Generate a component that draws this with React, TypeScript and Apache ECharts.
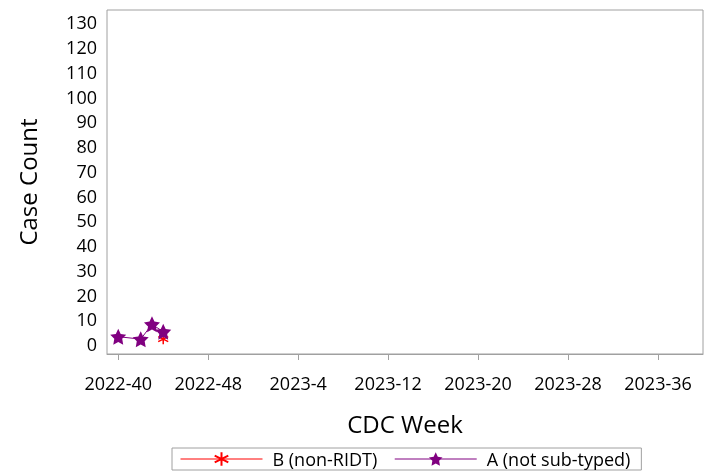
import React, { useEffect, useRef } from "react";
import * as echarts from "echarts";

const weeks: string[] = [];
for (let w = 39; w <= 52; w++) weeks.push(`2022-${w}`);
for (let w = 1; w <= 40; w++) weeks.push(`2023-${w}`);

const aWeeks = ["2022-40", "2022-42", "2022-43", "2022-44"];
const aValues = [3, 2, 8, 5];
const bWeeks = ["2022-44"];
const bValues = [2];
const yTicks = [0, 10, 20, 30, 40, 50, 60, 70, 80, 90, 100, 110, 120, 130];

const STAR =
  "path://M0,-100L29,-40L95,-31L47,15L59,81L0,50L-59,81L-47,15L-95,-31L-29,-40Z";
const ASTER = "path://M0,-100L0,100M-87,-50L87,50M-87,50L87,-50";

const FONT = "'Open Sans', 'Noto Sans', sans-serif";

export default function App() {
  const ref = useRef<HTMLDivElement>(null);
  useEffect(() => {
    const chart = echarts.init(ref.current!, null, { renderer: "svg" });
    chart.setOption({
      animation: false,
      textStyle: { fontFamily: FONT },
      grid: {
        left: 107,
        right: 6,
        top: 10,
        bottom: 118,
        show: true,
        borderColor: "#a0a0a0",
        borderWidth: 1,
      },
      legend: {
        top: 448,
        left: 172,
        borderColor: "#a0a0a0",
        borderWidth: 1,
        padding: [2, 11, 2, 8],
        itemWidth: 82,
        itemHeight: 17,
        itemGap: 17,
        lineStyle: { width: 1 },
        textStyle: {
          fontSize: 18,
          color: "#000",
          fontFamily: FONT,
          padding: [0, 0, 0, 5],
        },
        data: ["B (non-RIDT)", "A (not sub-typed)"],
      },
      xAxis: {
        type: "category",
        data: weeks,
        boundaryGap: false,
        name: "CDC Week",
        nameLocation: "middle",
        nameGap: 57,
        nameTextStyle: { fontSize: 24, color: "#000" },
        axisLine: { show: true, onZero: false, lineStyle: { color: "#a0a0a0" } },
        axisTick: {
          show: true,
          length: 6,
          lineStyle: { color: "#a0a0a0" },
          interval: (i: number) => (i - 1) % 8 === 0 && i >= 1,
        },
        axisLabel: {
          fontSize: 18,
          color: "#000",
          margin: 20,
          interval: (i: number) => (i - 1) % 8 === 0 && i >= 1,
        },
        splitLine: { show: false },
      },
      yAxis: {
        type: "value",
        min: -4,
        max: 135,
        name: "Case Count",
        nameLocation: "middle",
        nameGap: 68,
        nameTextStyle: { fontSize: 24, color: "#000" },
        axisLine: { show: false },
        axisTick: { show: false },
        splitLine: { show: false },
        axisLabel: {
          fontSize: 18,
          color: "#000",
          margin: 10,
          customValues: yTicks,
        },
      },
      series: [
        {
          name: "B (non-RIDT)",
          type: "line",
          data: bWeeks.map((w, i) => [w, bValues[i]]),
          symbol: ASTER,
          symbolSize: 10,
          showAllSymbol: true,
          itemStyle: { color: "#ff0000", borderColor: "#ff0000", borderWidth: 1.5 },
          lineStyle: { color: "#ff0000", width: 1 },
          z: 2,
        },
        {
          name: "A (not sub-typed)",
          type: "line",
          data: aWeeks.map((w, i) => [w, aValues[i]]),
          symbol: STAR,
          symbolSize: 16,
          showAllSymbol: true,
          itemStyle: { color: "#800080" },
          lineStyle: { color: "#800080", width: 1 },
          z: 3,
        },
      ],
    });
    return () => chart.dispose();
  }, []);
  return (
    <div
      ref={ref}
      style={{ position: "fixed", left: 0, top: 0, width: 709, height: 472 }}
    />
  );
}
